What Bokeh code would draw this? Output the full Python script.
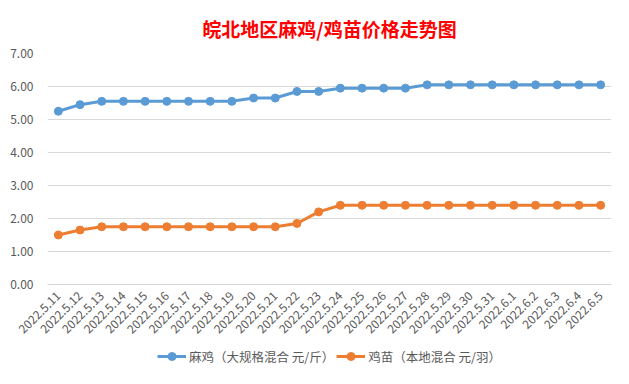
import math
from bokeh.plotting import figure
from bokeh.layouts import column
from bokeh.models import FactorRange, Range1d, NumeralTickFormatter, Legend, LegendItem, Title, FixedTicker
from bokeh.embed import file_html
from bokeh.resources import INLINE

dates = ["2022.5.11", "2022.5.12", "2022.5.13", "2022.5.14", "2022.5.15", "2022.5.16",
         "2022.5.17", "2022.5.18", "2022.5.19", "2022.5.20", "2022.5.21", "2022.5.22",
         "2022.5.23", "2022.5.24", "2022.5.25", "2022.5.26", "2022.5.27", "2022.5.28",
         "2022.5.29", "2022.5.30", "2022.5.31", "2022.6.1", "2022.6.2", "2022.6.3",
         "2022.6.4", "2022.6.5"]
maji = [5.25, 5.45, 5.55, 5.55, 5.55, 5.55, 5.55, 5.55, 5.55, 5.65, 5.65, 5.85,
        5.85, 5.95, 5.95, 5.95, 5.95, 6.05, 6.05, 6.05, 6.05, 6.05, 6.05, 6.05, 6.05, 6.05]
jimiao = [1.5, 1.65, 1.75, 1.75, 1.75, 1.75, 1.75, 1.75, 1.75, 1.75, 1.75, 1.85,
          2.2, 2.4, 2.4, 2.4, 2.4, 2.4, 2.4, 2.4, 2.4, 2.4, 2.4, 2.4, 2.4, 2.4]
y_ticks = [0, 1, 2, 3, 4, 5, 6, 7]
series_names = ["麻鸡（大规格混合 元/斤）", "鸡苗（本地混合 元/羽）"]
colors = ["#5B9BD5", "#ED7D31"]

FONT = "Noto Sans CJK SC"

p = figure(width=613, height=344, x_range=FactorRange(*dates, range_padding=0),
           y_range=Range1d(0, 7), output_backend="svg", toolbar_location=None,
           min_border_left=47, min_border_right=2, min_border_top=53, min_border_bottom=60)
p.outline_line_color = None
p.background_fill_color = "white"
p.border_fill_color = "white"

t = Title(text="皖北地区麻鸡/鸡苗价格走势图", align="center", text_color="#FF0000",
          text_font=FONT, text_font_size="19px", text_font_style="bold", standoff=24)
p.add_layout(t, "above")

for vals, col in zip([maji, jimiao], colors):
    p.line(dates, vals, line_color=col, line_width=3)
    p.scatter(dates, vals, size=8, fill_color=col, line_color=col)

p.yaxis.ticker = FixedTicker(ticks=y_ticks)
p.yaxis.formatter = NumeralTickFormatter(format="0.00")
p.yaxis.axis_line_color = None
p.yaxis.major_tick_line_color = None
p.yaxis.minor_tick_line_color = None
p.yaxis.major_label_text_color = "#595959"
p.yaxis.major_label_text_font = FONT
p.yaxis.major_label_text_font_size = "12px"
p.yaxis.major_label_standoff = 8

p.xaxis.axis_line_color = "#D9D9D9"
p.xaxis.major_tick_line_color = None
p.xaxis.minor_tick_line_color = None
p.xaxis.major_label_orientation = math.pi / 4
p.xaxis.major_label_text_color = "#595959"
p.xaxis.major_label_text_font = FONT
p.xaxis.major_label_text_font_size = "12px"
p.xaxis.major_label_standoff = 3

p.xgrid.grid_line_color = None
p.ygrid.grid_line_color = "#D9D9D9"
p.ygrid.grid_line_width = 1

# legend strip below the chart (same series, drawn outside its visible range)
leg = figure(width=613, height=24, x_range=FactorRange(*dates, range_padding=0),
             y_range=Range1d(100, 101), output_backend="svg", toolbar_location=None,
             x_axis_location=None, y_axis_location=None,
             min_border_left=0, min_border_right=0, min_border_top=0, min_border_bottom=0)
leg.outline_line_color = None
leg.xgrid.grid_line_color = None
leg.ygrid.grid_line_color = None
items = []
for name, vals, col in zip(series_names, [maji, jimiao], colors):
    l = leg.line(dates, vals, line_color=col, line_width=3)
    c = leg.scatter(dates, vals, size=7, fill_color=col, line_color=col)
    items.append(LegendItem(label=name, renderers=[l, c]))
legend = Legend(items=items, orientation="horizontal", location="center", border_line_color=None,
                background_fill_alpha=0,
                label_text_font=FONT, label_text_font_size="12.5px", label_text_color="#595959",
                glyph_width=29, label_standoff=3, spacing=2, margin=0, padding=0)
leg.add_layout(legend, "center")

layout = column(p, leg, spacing=0)
open("out.html", "w").write(file_html(layout, INLINE))
